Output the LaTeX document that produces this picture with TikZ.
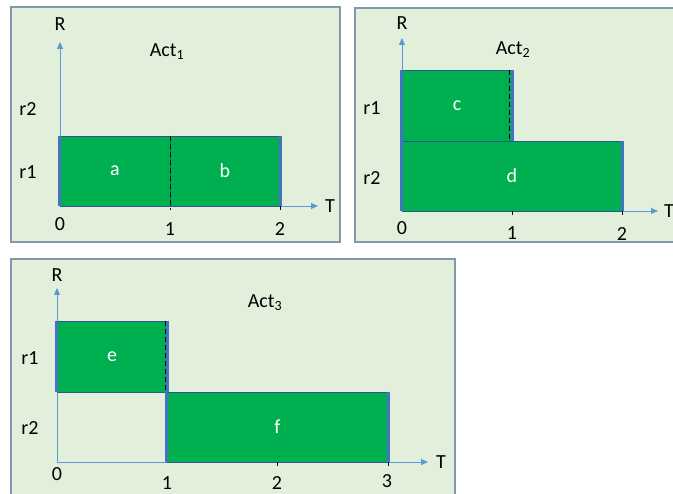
\documentclass[tikz,border=0pt]{standalone}
\usepackage{fontspec}
\setmainfont{Carlito}
\usetikzlibrary{arrows.meta}
\definecolor{panelbg}{HTML}{E2EFDA}
\definecolor{panelline}{HTML}{8497B0}
\definecolor{blockgreen}{HTML}{00B050}
\definecolor{blockedge}{HTML}{2F5597}
\definecolor{sideblue}{HTML}{4472C4}
\definecolor{axisblue}{HTML}{5B9BD5}
\begin{document}
\begin{tikzpicture}
[x=1pt, y=-1pt, font=\fontsize{20}{24}\selectfont]

\tikzstyle{panel}=[draw=panelline, fill=panelbg, line width=1.2pt]
\tikzstyle{axis}=[draw=axisblue, line width=0.9pt, -{Triangle[length=7pt,width=6pt]}]
\tikzstyle{block}=[draw=blockedge, fill=blockgreen, line width=0.9pt, text=white, inner sep=0pt]
\tikzstyle{side}=[draw=sideblue, line width=3pt]
\tikzstyle{split}=[black, dash pattern=on 5pt off 3pt, line width=1.6pt]
\tikzstyle{tick}=[black, line width=1pt]
\tikzstyle{lbl}=[inner sep=0pt]

\clip (0,0) rectangle (673,494);

\draw[panel] (11,7) rectangle (340,242);
\draw[panel] (355,8) rectangle (690,242);
\draw[panel] (11,259) rectangle (455,510);

% Act 1
\coordinate (O1) at (60,206);
\coordinate (R1) at (60,42);
\coordinate (T1) at (318,206);
\draw[axis] (O1) -- (R1);
\draw[axis] (O1) -- (T1);
\node[block, minimum width=110pt, minimum height=70pt]	(a)	at (115,171)	{a};
\node[block, minimum width=110pt, minimum height=70pt]	(b)	at (225,171)	{b};
\draw[side] (a.north west) -- (a.south west);
\draw[side] (b.north east) -- (b.south east);
\draw[split] (a.north east) -- ([yshift=-4pt]a.south east);
\draw[tick] (b.south east) -- ++(0,4);
\node[lbl]	(R1t)	at (60,24)	{R};
\node[lbl]	(T1t)	at (330,206)	{T};
\node[lbl]	(x10)	at (60,224)	{0};
\node[lbl]	(x11)	at (170,229)	{1};
\node[lbl]	(x12)	at (280,229)	{2};
\node[lbl]	(r12)	at (28,109)	{r2};
\node[lbl]	(r11)	at (28,172)	{r1};
\node[lbl]	(act1)	at (167,52)	{Act\textsubscript{1}};

% Act 2
\coordinate (O2) at (402,211);
\coordinate (R2) at (402,38);
\coordinate (T2) at (658,211);
\draw[axis] (O2) -- (R2);
\draw[axis] (O2) -- (T2);
\node[block, minimum width=110pt, minimum height=71pt]	(c)	at (457,105.5)	{c};
\node[block, minimum width=220pt, minimum height=70pt]	(d)	at (512,176)	{d};
\draw[side] (c.north west) -- (c.south west);
\draw[side] (c.north east) -- (c.south east);
\draw[side] (d.north west) -- (d.south west);
\draw[side] (d.north east) -- (d.south east);
\draw[split] ([xshift=-3pt]c.north east) -- ([xshift=-3pt]c.south east);
\draw[tick] (512,211) -- ++(0,4);
\draw[tick] (d.south east) -- ++(0,4);
\node[lbl]	(R2t)	at (402,23)	{R};
\node[lbl]	(T2t)	at (669,211)	{T};
\node[lbl]	(x20)	at (402,228)	{0};
\node[lbl]	(x21)	at (512,233)	{1};
\node[lbl]	(x22)	at (622,234)	{2};
\node[lbl]	(r21)	at (372,108)	{r1};
\node[lbl]	(r22)	at (372,178)	{r2};
\node[lbl]	(act2)	at (513,50)	{Act\textsubscript{2}};

% Act 3
\coordinate (O3) at (57,462);
\coordinate (R3) at (57,288);
\coordinate (T3) at (428,462);
\draw[axis] (O3) -- (R3);
\draw[axis] (O3) -- (T3);
\node[block, minimum width=110pt, minimum height=71pt]	(e)	at (112,356.5)	{e};
\node[block, minimum width=221pt, minimum height=70pt]	(f)	at (277.5,427)	{f};
\draw[side] (e.north west) -- (e.south west);
\draw[side] (e.north east) -- (e.south east);
\draw[side] (f.north west) -- (f.south west);
\draw[side] (f.north east) -- (f.south east);
\draw[split] ([xshift=-2pt]e.north east) -- ([xshift=-2pt]e.south east);
\draw[tick] (277,462) -- ++(0,4);
\draw[tick] (f.south east) -- ++(0,4);
\node[lbl]	(R3t)	at (57,275)	{R};
\node[lbl]	(T3t)	at (441,462)	{T};
\node[lbl]	(x30)	at (57,474)	{0};
\node[lbl]	(x31)	at (167,483)	{1};
\node[lbl]	(x32)	at (277,483)	{2};
\node[lbl]	(x33)	at (387,481)	{3};
\node[lbl]	(r31)	at (30,358)	{r1};
\node[lbl]	(r32)	at (30,428)	{r2};
\node[lbl]	(act3)	at (265,303)	{Act\textsubscript{3}};
\end{tikzpicture}
\end{document}
